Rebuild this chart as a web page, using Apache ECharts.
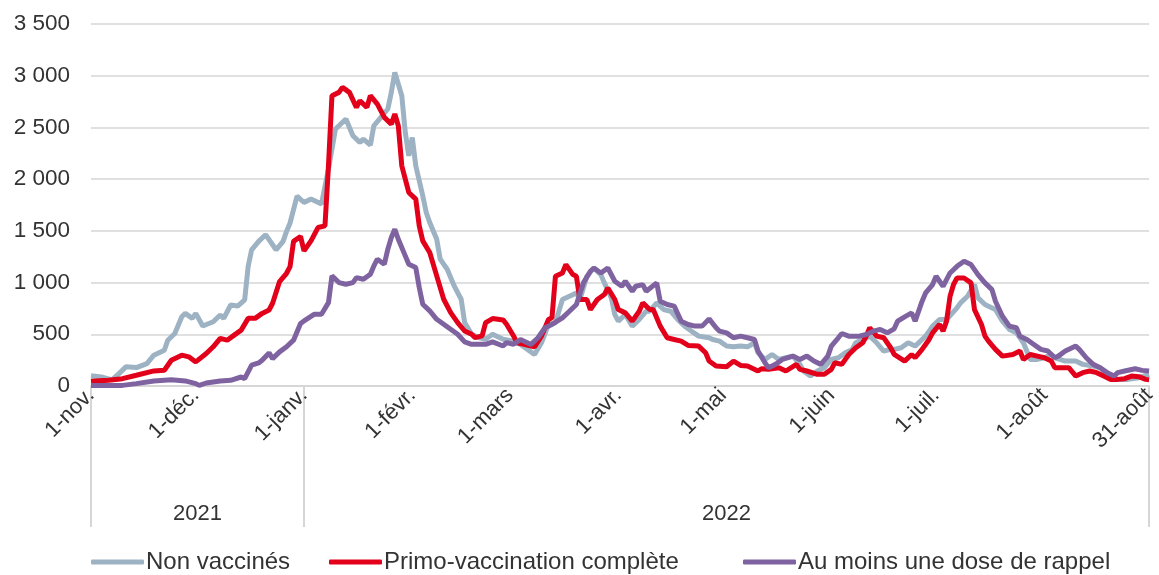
<!DOCTYPE html>
<html>
<head>
<meta charset="utf-8">
<script src="https://cdn.jsdelivr.net/npm/echarts@6/dist/echarts.min.js"></script>
<style>
html, body { margin: 0; padding: 0; background: #fff; }
#chart { width: 1159px; height: 575px; }
</style>
</head>
<body>
<div id="chart"></div>
<script>
// jours comptés depuis le 1er novembre 2021
const dayTicks = [0, 30, 61, 92, 120, 151, 181, 212, 242, 273, 303];
const dayLabels = ['1-nov.', '1-déc.', '1-janv.', '1-févr.', '1-mars', '1-avr.', '1-mai', '1-juin', '1-juil.', '1-août', '31-août'];
const yearBreaks = [0, 61, 303];
const yearNames = ['2021', '2022'];
const seriesNames = ['Non vaccinés', 'Primo-vaccination complète', 'Au moins une dose de rappel'];

// [jour, valeur]
const nonVaccines = [
  [0,100],[3,87],[6,60],[8,120],[10,185],[13,178],[16,217],[18,298],[21,346],[22,443],[24,508],[26,670],[27,702],[29,654],
  [30,702],[32,580],[35,621],[37,686],[38,654],[40,783],[42,773],[44,832],[45,1155],[46,1317],[48,1398],[50,1463],[52,1366],
  [53,1317],[55,1398],[56,1495],[57,1576],[59,1835],[61,1774],[63,1807],[66,1760],[68,2097],[70,2484],[71,2516],[73,2581],
  [75,2420],[77,2355],[78,2387],[80,2329],[81,2516],[83,2597],[85,2678],[86,2839],[87,3032],[89,2807],[90,2452],[91,2226],
  [92,2403],[93,2129],[95,1839],[96,1678],[97,1581],[99,1419],[100,1226],[102,1129],[104,968],[106,839],[107,613],[109,500],
  [111,468],[113,452],[115,500],[118,452],[121,434],[123,402],[125,354],[127,305],[129,418],[131,595],[133,611],[135,836],
  [137,868],[139,900],[140,836],[142,1061],[144,1141],[146,1077],[147,997],[149,852],[150,691],[151,627],[153,691],[155,579],
  [157,643],[159,723],[160,723],[162,804],[164,739],[166,723],[168,643],[170,579],[172,530],[174,482],[177,466],[178,450],
  [180,434],[182,386],[184,379],[186,386],[188,379],[190,418],[191,322],[193,257],[195,305],[197,257],[199,273],[201,289],
  [203,209],[204,145],[206,96],[208,145],[210,177],[212,257],[214,273],[216,322],[218,354],[219,418],[221,450],[223,482],
  [225,418],[227,338],[229,354],[230,354],[232,370],[234,418],[236,386],[238,450],[239,482],[241,579],[243,643],[245,643],
  [248,756],[249,804],[251,868],[253,981],[254,852],[256,788],[257,772],[259,739],[261,627],[263,547],[265,514],[267,418],
  [269,257],[271,257],[273,273],[275,305],[276,273],[279,241],[282,241],[284,209],[287,193],[289,177],[291,113],[294,64],
  [297,64],[300,80],[303,113]
];
const primoVaccination = [
  [0,45],[5,55],[9,71],[13,104],[18,146],[21,152],[23,249],[26,298],[28,282],[30,233],[33,314],[35,379],[37,460],[39,443],
  [41,492],[43,540],[45,654],[47,654],[49,702],[51,735],[52,800],[54,1010],[56,1090],[57,1155],[58,1398],[60,1446],[61,1306],
  [63,1403],[65,1532],[67,1548],[68,2129],[69,2807],[71,2839],[72,2887],[74,2839],[76,2694],[77,2758],[79,2694],[80,2807],
  [82,2726],[84,2597],[86,2532],[87,2629],[88,2516],[89,2129],[91,1871],[93,1807],[94,1548],[95,1403],[97,1290],[99,1065],
  [101,839],[103,710],[105,613],[107,532],[109,500],[110,468],[112,484],[113,613],[115,652],[118,639],[119,597],[121,484],
  [122,418],[124,402],[127,379],[129,482],[131,643],[132,659],[133,1061],[135,1093],[136,1174],[138,1077],[139,1061],[140,836],
  [142,836],[143,739],[145,836],[147,884],[148,948],[150,836],[151,739],[153,707],[155,627],[157,723],[158,804],[160,739],
  [161,739],[163,579],[165,466],[167,450],[169,434],[171,392],[174,386],[176,322],[177,241],[179,193],[182,186],[184,241],
  [186,199],[188,193],[191,145],[192,167],[194,161],[197,177],[199,145],[202,209],[203,161],[205,145],[208,113],[210,113],
  [212,161],[213,225],[215,209],[217,305],[219,370],[221,418],[222,482],[223,563],[225,482],[227,466],[229,370],[230,305],
  [233,241],[235,305],[236,273],[238,354],[240,450],[241,514],[243,595],[244,530],[245,627],[246,868],[247,981],[248,1045],
  [250,1045],[252,997],[253,739],[255,595],[256,482],[257,434],[259,354],[261,289],[264,305],[266,338],[267,257],[269,305],
  [271,289],[273,273],[275,241],[276,177],[278,177],[280,177],[282,96],[284,129],[286,145],[288,129],[290,96],[292,64],
  [294,64],[296,71],[298,96],[300,90],[302,64],[303,60]
];
const rappel = [
  [0,6],[9,6],[13,23],[18,49],[23,61],[27,49],[30,23],[31,6],[33,29],[37,49],[40,55],[43,87],[44,71],[46,201],[48,223],
  [49,249],[51,320],[52,265],[54,330],[56,379],[58,443],[60,605],[61,629],[64,694],[66,694],[68,806],[69,1065],[71,1000],
  [73,984],[75,1000],[76,1048],[78,1032],[80,1081],[81,1161],[82,1226],[84,1177],[85,1323],[86,1436],[87,1516],[88,1419],
  [90,1258],[91,1177],[93,1145],[94,952],[95,790],[97,726],[99,645],[101,597],[103,548],[105,500],[107,426],[109,403],
  [111,403],[113,403],[115,426],[118,387],[119,419],[121,403],[123,450],[126,402],[128,466],[130,563],[132,595],[135,659],
  [137,723],[139,788],[141,997],[143,1109],[144,1141],[146,1093],[148,1141],[150,1013],[152,964],[153,1013],[155,916],
  [156,964],[158,980],[159,916],[162,997],[163,820],[165,788],[167,772],[169,627],[171,595],[173,579],[175,579],[177,649],
  [179,563],[180,530],[182,514],[184,466],[186,482],[188,466],[190,450],[191,338],[193,225],[194,177],[196,209],[198,257],
  [201,289],[203,257],[205,289],[207,241],[209,209],[211,289],[212,386],[214,466],[215,508],[217,482],[220,482],[222,498],
  [224,530],[226,547],[228,514],[230,553],[231,627],[233,669],[235,707],[236,627],[238,820],[239,900],[241,981],[242,1061],
  [244,964],[246,1093],[248,1157],[250,1206],[252,1174],[254,1077],[256,997],[258,932],[259,820],[261,675],[263,579],
  [265,563],[266,482],[268,450],[270,402],[272,354],[274,338],[276,273],[277,289],[279,338],[282,386],[283,354],[285,273],
  [287,209],[289,177],[291,129],[293,96],[294,129],[296,145],[299,167],[301,151],[303,145]
];

const colors = ['#9db2c3', '#e2001a', '#7f63a1'];
const font = 'Liberation Sans, Arial, sans-serif';
const legendLeft = [91, 329, 743];

// milieu de chaque année pour placer 2021 / 2022
const yearMid = yearNames.map((n, i) => (yearBreaks[i] + yearBreaks[i + 1]) / 2);

const chart = echarts.init(document.getElementById('chart'));
const option = {
  animation: false,
  backgroundColor: '#fff',
  grid: { left: 91, right: 2, top: 24, bottom: 189, containLabel: false },
  legend: seriesNames.map((n, i) => ({
    data: [n],
    left: legendLeft[i],
    top: 550,
    padding: 0,
    icon: 'roundRect',
    itemWidth: 53,
    itemHeight: 5,
    textStyle: { fontFamily: font, fontSize: 24, color: '#333', padding: [0, 0, 0, -3] }
  })),
  xAxis: [{
    type: 'value',
    min: 0,
    max: 303,
    axisLine: { show: true, lineStyle: { color: '#d6d6d6', width: 2 } },
    axisTick: { show: true, customValues: yearBreaks, length: 141, lineStyle: { color: '#d6d6d6', width: 2 } },
    splitLine: { show: false },
    axisLabel: {
      customValues: dayTicks,
      rotate: 45,
      margin: 6,
      fontFamily: font,
      fontSize: 22,
      color: '#333',
      formatter: v => dayLabels[dayTicks.indexOf(v)]
    }
  }, {
    type: 'value',
    min: 0,
    max: 303,
    position: 'bottom',
    offset: 113,
    axisLine: { show: false },
    axisTick: { show: false },
    splitLine: { show: false },
    axisLabel: {
      customValues: yearMid,
      margin: 4,
      fontFamily: font,
      fontSize: 22,
      color: '#333',
      formatter: v => yearNames[yearMid.indexOf(v)]
    }
  }],
  yAxis: {
    type: 'value',
    min: 0,
    max: 3500,
    interval: 500,
    axisLine: { show: false },
    axisTick: { show: false },
    splitLine: { lineStyle: { color: '#d6d6d6', width: 1.5 } },
    axisLabel: {
      margin: 21,
      fontFamily: font,
      fontSize: 22.5,
      color: '#333',
      formatter: v => String(v).replace(/\B(?=(\d{3})+(?!\d))/g, ' ')
    }
  },
  series: [nonVaccines, primoVaccination, rappel].map((d, i) => ({
    name: seriesNames[i],
    type: 'line',
    data: d,
    showSymbol: false,
    color: colors[i],
    lineStyle: { width: 5, color: colors[i] }
  }))
};
chart.setOption(option);
</script>
</body>
</html>
